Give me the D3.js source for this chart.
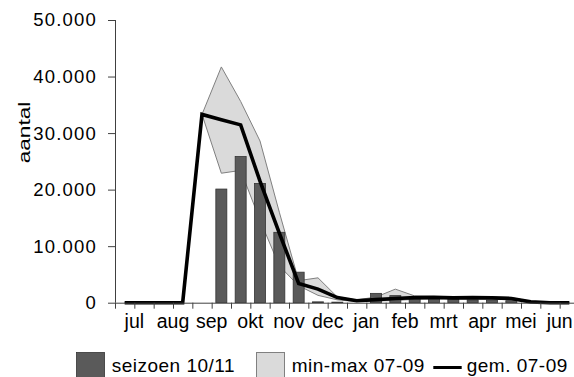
<!DOCTYPE html>
<html>
<head>
<meta charset="utf-8">
<script src="https://cdn.jsdelivr.net/npm/d3@7"></script>
<style>
  html, body { margin: 0; padding: 0; background: #fff; }
  svg { display: block; font-family: "Liberation Sans", Arial, sans-serif; }
</style>
</head>
<body>
<svg id="chart" width="574" height="377"></svg>
<script>
// Half-month periods of the season, July through June
const months = ["jul", "aug", "sep", "okt", "nov", "dec", "jan", "feb", "mrt", "apr", "mei", "jun"];
const periods = months.flatMap(m => [m + "-1", m + "-2"]);

// Counts for season 2010/11 (bars)
const season1011 = [0, 0, 0, 0, 0, 20100, 25850, 21100, 12450, 5400, 150, 100,
                    0, 1650, 1250, 650, 950, 600, 500, 450, 350, 0, 0, 0];
// Average of seasons 07-09 (line)
const avg0709 = [0, 0, 0, 0, 33300, 32350, 31450, 21500, 12300, 3400, 2400, 900,
                 350, 550, 750, 900, 950, 850, 900, 850, 750, 150, 0, 0];
// Minimum and maximum of seasons 07-09 (band)
const min0709 = [0, 0, 0, 0, 33300, 22900, 23400, 14600, 6500, 3000, 1300, 500,
                 200, 300, 400, 600, 700, 700, 700, 650, 550, 50, 0, 0];
const max0709 = [0, 0, 0, 0, 33300, 41700, 35600, 28600, 16000, 3900, 4400, 1000,
                 500, 1000, 2400, 1200, 1100, 1000, 1000, 1000, 900, 250, 0, 0];

const yTicks = [0, 10000, 20000, 30000, 40000, 50000];

const svg = d3.select("#chart");
const FONT = 19.5;

const x0 = 115, x1 = 579, yBase = 302.7, yTop = 20;
const x = d3.scaleBand().domain(periods).range([x0, x1]).padding(0);
const xEdge = d3.scaleLinear().domain([0, periods.length]).range([x0, x1]);
const xc = p => x(p) + x.bandwidth() / 2;
const y = d3.scaleLinear().domain([0, 50000]).range([yBase, yTop]);

const nl = d3.formatLocale({ decimal: ",", thousands: ".", grouping: [3], currency: ["€", ""] });
const fmt = nl.format(",");

// min-max band
const band = periods.map((p, i) => ({ p, lo: min0709[i], hi: max0709[i] }));
svg.append("path")
  .datum(band)
  .attr("d", d3.area().x(d => xc(d.p)).y0(d => y(d.lo)).y1(d => y(d.hi)))
  .attr("fill", "#dadada")
  .attr("stroke", "#808080")
  .attr("stroke-width", 1);

// season 10/11 bars
const barW = 11;
svg.append("g").selectAll("rect")
  .data(periods.map((p, i) => ({ p, v: season1011[i] })).filter(d => d.v > 0))
  .join("rect")
  .attr("x", d => xc(d.p) - barW / 2)
  .attr("y", d => y(d.v))
  .attr("width", barW)
  .attr("height", d => yBase - y(d.v))
  .attr("fill", "#5a5a5a")
  .attr("stroke", "#333")
  .attr("stroke-width", 0.8);

// average line
svg.append("path")
  .datum(periods.map((p, i) => ({ p, v: avg0709[i] })))
  .attr("d", d3.line().x(d => xc(d.p)).y(d => y(d.v)))
  .attr("fill", "none")
  .attr("stroke", "#000")
  .attr("stroke-width", 3.6)
  .attr("stroke-linejoin", "miter");

// y axis
const yAxis = svg.append("g")
  .attr("transform", `translate(${x0},0)`)
  .call(d3.axisLeft(y).tickValues(yTicks).tickSize(7).tickPadding(11).tickFormat(d => fmt(d)));
yAxis.select(".domain").attr("stroke", "#404040").attr("d", `M0.5,${yTop}V${yBase}`);
yAxis.selectAll(".tick line").attr("stroke", "#404040");
yAxis.selectAll(".tick text")
  .attr("font-size", 18.5)
  .attr("font-family", "Liberation Sans, Arial, sans-serif")
  .attr("letter-spacing", "1.2px")
  .attr("fill", "#000");

// x axis: ticks at period edges, month names centred on each month
const xAxis = svg.append("g")
  .attr("transform", `translate(0,${yBase})`)
  .call(d3.axisBottom(xEdge).tickValues(d3.range(0, periods.length + 1)).tickSize(6).tickFormat(""));
xAxis.select(".domain").attr("stroke", "#404040").attr("d", `M${x0},0.5H${x1}`);
xAxis.selectAll(".tick line").attr("stroke", "#404040");

svg.append("g").selectAll("text")
  .data(months)
  .join("text")
  .attr("x", (m, i) => xEdge(2 * i + 1))
  .attr("y", 328.3)
  .attr("text-anchor", "middle")
  .attr("font-size", FONT)
  .attr("fill", "#000")
  .text(d => d);

// y axis title
svg.append("text")
  .attr("transform", "translate(30,132.5) rotate(-90)")
  .attr("text-anchor", "middle")
  .attr("font-size", 16.5)
  .attr("textLength", 61.7)
  .attr("lengthAdjust", "spacingAndGlyphs")
  .attr("fill", "#000")
  .text("aantal");

// legend
const lg = svg.append("g").attr("font-size", 19).attr("letter-spacing", "0.5px");
lg.append("rect").attr("x", 76.5).attr("y", 352.5).attr("width", 28).attr("height", 30)
  .attr("fill", "#5a5a5a").attr("stroke", "#333").attr("stroke-width", 0.8);
lg.append("text").attr("x", 111.7).attr("y", 371.7).text("seizoen 10/11");
lg.append("rect").attr("x", 256.5).attr("y", 352.5).attr("width", 28).attr("height", 30)
  .attr("fill", "#dadada").attr("stroke", "#808080").attr("stroke-width", 1);
lg.append("text").attr("x", 291.7).attr("y", 371.7).text("min-max 07-09");
lg.append("line").attr("x1", 433.3).attr("x2", 461.7).attr("y1", 367.5).attr("y2", 367.5)
  .attr("stroke", "#000").attr("stroke-width", 3);
lg.append("text").attr("x", 466.7).attr("y", 371.7).text("gem. 07-09");
</script>
</body>
</html>
